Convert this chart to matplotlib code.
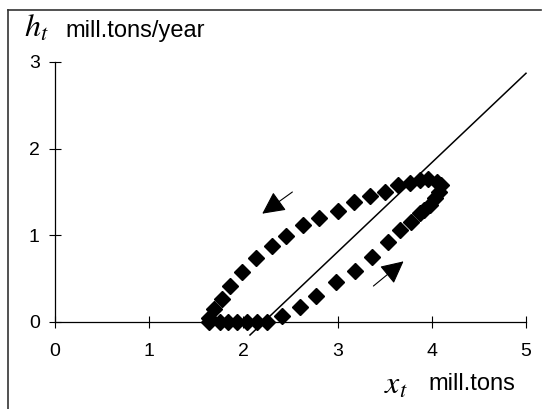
import numpy as np
import matplotlib
matplotlib.use('Agg')
import matplotlib.pyplot as plt
from matplotlib.lines import Line2D

plt.rcParams['font.family'] = ['Liberation Sans', 'DejaVu Sans']
plt.rcParams['mathtext.fontset'] = 'stix'

# stock x_t (mill.tons) and harvest h_t (mill.tons/year), one cycle
stock = [1.64, 1.75, 1.84, 1.93, 2.04, 2.14, 2.25, 2.41, 2.60, 2.77, 2.98, 3.19,
         3.36, 3.53, 3.66, 3.78, 3.87, 3.92, 3.98, 4.03, 4.08, 4.10, 4.05, 3.96,
         3.87, 3.77, 3.64, 3.50, 3.34, 3.17, 3.00, 2.80, 2.63, 2.45, 2.30, 2.13,
         1.98, 1.86, 1.77, 1.69, 1.64]
harvest = [0.00, 0.00, 0.00, 0.00, 0.00, 0.00, 0.00, 0.07, 0.17, 0.30, 0.46, 0.59,
           0.75, 0.92, 1.06, 1.15, 1.26, 1.29, 1.35, 1.43, 1.50, 1.58, 1.61, 1.65,
           1.64, 1.60, 1.58, 1.50, 1.45, 1.38, 1.28, 1.20, 1.12, 0.99, 0.88, 0.74,
           0.58, 0.42, 0.27, 0.15, 0.05]

# reference line
line_x = [2.07, 5.0]
line_y = [-0.15, 2.87]

# direction arrows (tail, head)
arrow_up_left = ((2.52, 1.50), (2.20, 1.25))
arrow_down_right = ((3.38, 0.415), (3.70, 0.70))

x_ticks = [0, 1, 2, 3, 4, 5]
y_ticks = [0, 1, 2, 3]

fig = plt.figure(figsize=(5.46, 4.09), dpi=100)
W, H = 546, 409

# outer frame (top and left)
fig.add_artist(Line2D([8 / W, 541 / W], [1 - 10 / H, 1 - 10 / H],
                      transform=fig.transFigure, color='#333333', lw=1.2))
fig.add_artist(Line2D([8 / W, 8 / W], [0, 1 - 10 / H],
                      transform=fig.transFigure, color='#333333', lw=1.2))

ax = fig.add_axes([55 / W, 87 / H, 471 / W, 260 / H])
ax.set_xlim(0, 5)
ax.set_ylim(0, 3)
for s in ['top', 'right']:
    ax.spines[s].set_visible(False)
for s in ['left', 'bottom']:
    ax.spines[s].set_linewidth(0.9)

ax.plot(line_x, line_y, color='black', lw=1.1, clip_on=False)
ax.plot(stock, harvest, linestyle='none', marker='D', markersize=8,
        color='black', clip_on=False)

for tail, head in [arrow_up_left, arrow_down_right]:
    ax.annotate('', xy=head, xytext=tail,
                arrowprops=dict(arrowstyle='-|>,head_length=0.7,head_width=0.35',
                                mutation_scale=20, color='black', lw=0.8,
                                shrinkA=0, shrinkB=0))

ax.set_xticks(x_ticks)
ax.set_yticks(y_ticks)
ax.tick_params(axis='both', direction='inout', length=8, width=0.8, labelsize=14)
ax.tick_params(axis='x', pad=11)
ax.tick_params(axis='y', pad=7)

fig.text(24 / W, 1 - 37 / H, r'$h_t$', fontsize=23, ha='left', va='baseline')
fig.text(65 / W, 1 - 37 / H, 'mill.tons/year', fontsize=17, ha='left', va='baseline')
fig.text(384 / W, 1 - 394 / H, r'$x_t$', fontsize=23, ha='left', va='baseline')
fig.text(428 / W, 1 - 390 / H, 'mill.tons', fontsize=17, ha='left', va='baseline')

fig.savefig('out.png', dpi=100)
